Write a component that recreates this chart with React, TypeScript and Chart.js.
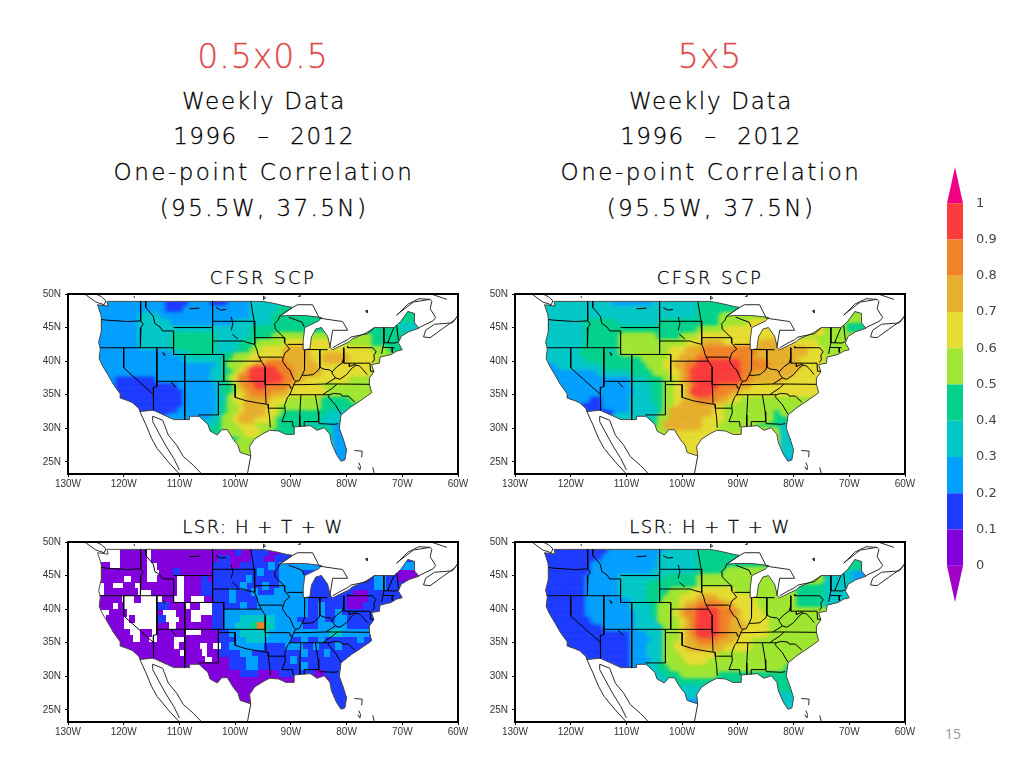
import React, { useEffect, useRef } from "react";
import { Chart, registerables } from "chart.js";

Chart.register(...registerables);

// ---- colour levels (0-0.1, 0.1-0.2, ... 0.9-1)
const levelColors = ["#8200dc", "#1e3cff", "#00a0ff", "#00c8c8", "#00d28c", "#a0e632", "#e6dc32", "#e6af2d", "#f08228", "#fa3c3c"];
const overColor = "#f00082";
const underColor = "#a000c8";
const barTicks = [0, 0.1, 0.2, 0.3, 0.4, 0.5, 0.6, 0.7, 0.8, 0.9, 1];
const lonTicks = [-130, -120, -110, -100, -90, -80, -70, -60];
const latTicks = [25, 30, 35, 40, 45, 50];
const rowLats = [48.5, 47.5, 46.5, 45.5, 44.5, 43.5, 42.5, 41.5, 40.5, 39.5, 38.5, 37.5, 36.5, 35.5, 34.5, 33.5, 32.5, 31.5, 30.5, 29.5, 28.5, 27.5, 26.5, 25.5];

// Each row: "lonW:level" runs, from that longitude eastward until the next run.
const scpFine = [
  "125:2 113:1 108:2 105:1 101:2 97:3",
  "125:2 113:1 109:2 97:3 92:4",
  "125:2 117:3 114:2 97:3 93:4",
  "125:2 117:3 112:2 100:3 93:4 75:4 71:3",
  "125:2 117:3 97:4 75:4 71:3",
  "125:2 117:3 111:4 104:3 97:4 93:5 76:4",
  "125:2 117:3 111:4 104:3 99:4 96:5 91:6 83:5 76:4",
  "125:2 111:3 108:4 104:3 99:4 97:5 95:6 91:7 87:6 76:5 73:4",
  "125:2 109:3 102:4 100:5 97:6 93:6 91:7 87:6 84:7 80:6 75:5",
  "125:2 103:3 102:4 101:5 98:6 96:7 94:8 91:7 86:6 76:5",
  "125:2 104:3 101:4 100:5 99:6 98:7 97:9 93:8 90:7 85:6 76:5",
  "125:2 122:1 114:2 104:3 102:4 101:5 100:6 99:8 97:9 92:8 90:7 88:6 80:5",
  "125:2 122:1 110:2 103:3 102:4 100:5 99:7 98:8 96:9 95:8 91:7 90:6 85:5",
  "125:1 117:0 116:1 109:2 103:3 102:4 100:5 99:6 98:7 97:8 94:7 91:6 84:5",
  "125:1 109:2 103:3 101:5 100:6 98:7 94:6 91:5 85:4 79:5",
  "125:1 109:2 103:3 102:4 101:5 99:6 98:7 95:6 93:5 85:4",
  "125:1 110:2 103:3 102:4 101:5 99:6 98:7 95:6 93:5 92:4 84:3",
  "112:2 104:3 102:5 100:6 99:7 97:6 94:5 93:4 85:3",
  "107:3 103:4 102:5 99:6 97:5 93:4 88:3 83:2",
  "105:4 102:5 98:6 96:5 94:4 83:2",
  "102:4 99:5 95:4 83:2",
  "100:5 83:2",
  "100:5 83:2",
  "100:5 83:2",
];
const scpCoarse = [
  "125:3 113:2 105:3 97:4",
  "125:3 97:4",
  "125:3 97:4 93:5",
  "125:3 117:4 112:3 104:4 93:5 88:6 75:5 71:4",
  "125:3 117:4 97:5 92:6 75:5 71:4",
  "125:3 117:4 111:5 105:4 100:5 97:6 80:5",
  "125:3 117:4 111:5 99:6 96:7 93:6 86:7 83:6 76:5",
  "125:3 118:4 114:3 111:5 102:6 99:7 96:8 87:7 78:6 75:5",
  "125:3 117:4 107:5 102:6 100:7 97:8 88:7 80:6 75:5",
  "125:2 122:3 114:4 106:5 103:6 101:7 99:8 97:9 90:8 85:7 79:6 75:5",
  "125:2 115:3 109:4 105:5 102:6 100:7 99:8 98:9 90:8 88:7 80:6",
  "125:2 109:3 106:4 103:5 101:6 100:7 99:8 98:9 90:8 88:7 82:6",
  "125:2 109:3 105:4 103:5 101:6 99:7 98:8 97:9 94:8 90:7 88:6",
  "125:2 108:3 105:4 103:5 101:6 99:7 98:9 95:8 92:7 90:6",
  "125:2 117:1 114:2 109:3 105:4 103:5 101:6 99:7 97:8 94:7 92:6 90:5",
  "125:1 114:2 109:3 104:4 103:5 101:6 100:7 95:6 93:5",
  "125:1 112:2 109:3 104:4 103:5 102:7 95:6 93:5 84:4 82:5",
  "112:3 104:5 102:7 97:6 93:5 84:4",
  "107:4 104:5 103:7 97:6 94:5 87:4 83:3",
  "105:5 102:6 94:5 83:3",
  "102:6 83:3",
  "100:6 83:3",
  "100:6 83:3",
  "100:6 83:2",
];
const lsrFine = [
  "125:. 122:. 120.5:0 116:. 115:0 100:1 99:0 97:1 94:0 92:1",
  "125:. 120.5:0 116:. 115:0 103:1 101:0 97:1 95:0 93:1",
  "125:0 122.5:. 120.5:0 116:. 114:0 104:1 101:0 99:1 94:2 93:1 92:2",
  "125:0 116:. 113.5:0 111:1 110:0 104:1 96:2 95:1 92:2 88:1 71:0",
  "125:0 120:. 118.5:0 116:. 114:0 110.5:. 109:0 106:1 105:0 104:1 98:2 97:1 92:2 86:1 75:2 73:1 71:0",
  "125:. 123.5:0 122:. 120:0 118:. 117:0 110.5:. 109:0 106:1 104:1 99:2 98:1 95:2 94:1 92:2 87:1 75:2 73:1",
  "125:. 123.5:0 122:0 117.5:. 115:0 110.5:. 109:0 106:1 101:2 100:1 97:2 96:1 93:2 88:1 79:0 76:1",
  "125:0 120.5:. 118:0 117:. 113:0 111:. 109:0 108:. 105.5:0 104:1 101:2 100:1 96:2 87:1 80:0 76:1",
  "125:0 122:. 121:0 120:. 114:1 112:0 109:. 108:0 106.5:. 104:1 99:2 98:1 96:2 87:1 85:2 84:1 80:0 77:1",
  "125:. 122.5:0 119.5:. 114:0 113:. 110.5:0 108:. 104:1 102:2 87:1 85:2 84:1 82:2 81:1",
  "125:. 123:0 120:. 119:0 118:. 114:1 112.5:. 110:0 108:. 106:0 104:1 102:2 99:3 93:2 89:1 85:2 84:1 82:2 80:1",
  "125:. 123:0 120:. 114:0 112:. 110.5:0 104:1 102:2 100:3 97:4 96:8 95:4 94:3 93:2 89:2 88:1 85:2 80:1",
  "125:0 119:. 117:0 115:. 114:0 109:. 106:0 103:1 101:2 99:3 94:2 83:3 81:2 76:1",
  "125:0 118.5:. 117:0 115.5:. 114:0 111:. 109:0 103:1 100:2 98:3 95:2 90:1 88:2 87:1 85:2 84:1 78:2 77:1",
  "125:0 111:. 110:0 106.5:. 105:0 104:. 102.5:1 101:2 95:1 91:2 88:1 86:2 85:1 82:2 81:1",
  "125:0 110:. 109:0 106:. 105:0 103:1 99:2 97:1 91:1 88:2 87:1 84:2 83:1",
  "125:0 105.5:. 104:0 101:1 98:2 96:1 90:2 89:1",
  "112:0 101:1 98:2 96:1 88:2 87:1",
  "107:0 99:1 96:0 92:1 86:0 84:1",
  "105:0 83:1",
  "102:0 83:1",
  "100:0 83:1",
  "100:0 83:1",
  "100:0 81.5:1",
];
const lsrCoarse = [
  "125:1 113:2 103:3 97:4",
  "125:1 114:2 104:3 97:4",
  "125:1 116:2 104:3 97:4",
  "125:1 116:2 105:3 97:4 92:5 84:4 75:3 70:2",
  "125:1 117:2 111:3 103:4 97:5 75:3 70:2",
  "125:1 117:2 111:3 106:4 97:5 80:4 75:3",
  "125:1 117:2 111:3 106:4 102:5 98:6 91:5 80:4 75:3",
  "125:1 117:2 109:3 106:4 103:5 100:6 97:7 94:6 87:5 80:4 75:3",
  "125:1 117:2 109:3 105:4 104:5 100:6 99:7 97:8 93:7 91:6 87:5 80:4 75:3",
  "125:1 117:2 108:3 105:4 104:5 101:6 100:7 99:8 97:9 94:8 91:7 90:6 86:5",
  "125:1 116:2 108:3 104:5 100:6 99:7 98:8 97:9 94:8 92:7 90:6 85:5",
  "125:1 114:2 108:3 103:5 100:6 99:7 98:8 97:9 94:8 92:7 89:6 85:5",
  "125:1 109:2 106:3 103:5 100:6 99:7 98:8 97:9 94:8 92:7 90:6 85:5",
  "125:1 109:2 105:3 103:5 100:6 99:7 97:8 94:7 91:6 88:5",
  "125:1 109:2 106:3 103:5 101:6 99:7 93:6 88:5",
  "125:1 109:2 106:3 103:5 100:6 94:5",
  "125:1 109:2 105:3 103:5 99:6 96:5",
  "112:1 109:2 106:3 104:4 102:5 82:4",
  "107:3 103:4 100:5 94:4",
  "105:3 101:4",
  "102:3 83:4",
  "100:3 83:3",
  "100:2 83:3",
  "100:2 83:3",
];

// ---- map geometry, [lon, lat]
const usOutline: number[][] = [
  [-124.7, 48.4], [-124.1, 46.9], [-124.0, 46.2], [-124.0, 44.5], [-124.5, 42.8], [-124.2, 41.8], [-124.4, 40.4], [-123.8, 39.3], [-123.0, 38.2], [-122.5, 37.5], [-121.9, 36.6], [-120.6, 35.1], [-120.6, 34.5], [-119.2, 34.1], [-118.4, 33.8], [-117.3, 33.0], [-117.1, 32.5],
  [-114.7, 32.7], [-111.0, 31.3], [-108.2, 31.3], [-108.2, 31.8], [-106.5, 31.8], [-104.9, 30.6], [-104.5, 29.6], [-103.2, 29.0], [-102.4, 29.8], [-101.4, 29.8], [-100.3, 28.3], [-99.5, 27.5], [-99.1, 26.4], [-97.2, 25.9],
  [-97.4, 27.3], [-96.5, 28.4], [-95.0, 29.2], [-93.8, 29.7], [-92.2, 29.6], [-90.9, 29.1], [-89.4, 29.1], [-89.4, 30.2], [-88.0, 30.3], [-86.5, 30.4], [-85.3, 29.7], [-84.0, 30.1], [-83.0, 29.1], [-82.7, 27.8], [-81.8, 26.1], [-81.0, 25.1], [-80.3, 25.3], [-80.0, 26.8], [-80.6, 28.4], [-81.3, 30.0], [-81.0, 32.0], [-79.2, 33.2], [-77.9, 33.9], [-76.5, 34.7], [-75.5, 35.3], [-75.9, 36.6], [-75.9, 37.5], [-75.1, 38.4], [-75.5, 39.5], [-74.1, 39.7], [-74.0, 40.6], [-72.0, 41.0], [-71.0, 41.5], [-70.0, 41.7], [-70.7, 42.7], [-70.2, 43.7], [-68.8, 44.4], [-67.0, 44.9], [-67.8, 45.7], [-67.8, 47.1], [-69.0, 47.4], [-70.3, 45.9], [-71.5, 45.0], [-75, 45], [-76.5, 44.2], [-79, 43.3], [-79.5, 42.9], [-82.5, 41.7], [-82.9, 42.0], [-83.4, 43.7], [-84.5, 45.0], [-85.5, 44.8], [-86.3, 43.6], [-86.6, 41.8], [-87.7, 41.7], [-87.8, 43], [-87.5, 45], [-85, 46.0], [-84.5, 46.5], [-87.5, 46.8], [-90.5, 46.8], [-92, 46.7], [-89.7, 48], [-91, 48.2], [-93, 48.6], [-95, 48.9], [-123, 48.9], [-122.8, 48.2], [-124.7, 48.4],
];
const coastLines: number[][][] = [
  [[-117.1, 32.5], [-116, 30.5], [-115, 28.5], [-114, 27], [-112, 25], [-110, 23.2]],
  [[-110, 23.8], [-111, 25.5], [-112.5, 27.5], [-113.5, 29], [-114.8, 31], [-114.8, 31.8], [-113, 31.2], [-112, 29], [-110.5, 27.5], [-109.3, 25.8], [-107.5, 24.5], [-106, 23.2]],
  [[-97.2, 25.9], [-97.8, 23.2]],
  [[-127, 50], [-125, 48.8], [-123.5, 48.4], [-123.2, 49], [-124, 49.6], [-125, 50]],
  [[-92, 46.7], [-89.7, 48], [-88.8, 48.4], [-86.1, 48.4], [-84.9, 46.4], [-80.7, 45.9], [-79.8, 44.6], [-82.5, 44.6], [-83, 42]],
  [[-82.5, 42], [-81, 42.7], [-79.8, 43.2], [-79.2, 43.6], [-76.2, 44.1], [-75, 45]],
  [[-67, 45], [-64.5, 46], [-64, 46.5], [-65, 47.8], [-64.7, 48.9], [-65, 49.2], [-68, 48.8], [-71, 46.9]],
  [[-71, 46.8], [-69, 48.5], [-67, 49.3], [-65, 49.2]],
  [[-66.2, 43.6], [-65.8, 44.6], [-64.2, 45.5], [-61, 45.7], [-60, 46.8], [-60.8, 46], [-63, 44.7], [-65, 43.5], [-66.2, 43.6]],
  [[-64.5, 49.9], [-62, 49.2]],
  [[-76.6, 47.5], [-76.3, 47.6], [-76.3, 47.2], [-76.6, 47.5]],
  [[-88.7, 50], [-88.2, 49.7], [-88.7, 49.6]],
  [[-94.9, 49.7], [-94.5, 49.4], [-95, 49.2], [-94.9, 49.7]],
  [[-118.2, 49.7], [-118, 49.4]],
  [[-78.6, 26.7], [-77.2, 26.6], [-77.3, 25.7]],
  [[-77.8, 24.9], [-77.5, 24.3], [-77.6, 23.8], [-78, 24.3]],
  [[-75.3, 24.2], [-75, 23.2]],
  [[-113, 41.3], [-112.6, 41.1], [-112.7, 40.8], [-113, 41.3]],
];
const stateLines: number[][][] = [
  [[-124, 46.2], [-123, 46.1], [-119.3, 45.9], [-116.9, 46]],
  [[-117, 48.9], [-117, 46.4], [-116.9, 46], [-116.5, 45.5], [-116.9, 45], [-117, 44.2], [-117, 42]],
  [[-124.2, 42], [-111.05, 42]],
  [[-116.05, 48.9], [-116.05, 48], [-114.7, 46.7], [-114.4, 45.6], [-113.5, 45.1], [-113, 44.5], [-111.05, 44.5], [-111.05, 41]],
  [[-111.05, 45], [-104.05, 45]],
  [[-104.05, 48.9], [-104.05, 41]],
  [[-104.05, 45.94], [-96.6, 45.94]],
  [[-104.05, 43], [-98.5, 43], [-97.9, 42.8], [-96.5, 42.5]],
  [[-111.05, 41], [-102.05, 41], [-102.05, 37]],
  [[-102.05, 40], [-95.3, 40]],
  [[-109.05, 41], [-109.05, 31.3]],
  [[-114.05, 42], [-114.05, 36.2], [-114.7, 36.1], [-114.6, 35], [-114.7, 32.7]],
  [[-114.05, 37], [-94.6, 37]],
  [[-103, 37], [-103, 32], [-106.6, 32]],
  [[-103, 36.5], [-100, 36.5], [-100, 34.6], [-98, 34.1], [-96, 33.8], [-94.5, 33.6]],
  [[-95.3, 40], [-94.6, 39.1], [-94.6, 36.5], [-94.45, 33.6], [-94.05, 33.55], [-94.05, 33], [-93.8, 31.5], [-93.7, 30.1]],
  [[-94.05, 33], [-91.1, 33]],
  [[-94.6, 36.5], [-90.2, 36.5], [-90.1, 36], [-89.7, 36]],
  [[-92, 46.7], [-92.3, 46.1], [-92.9, 45.6], [-92.8, 44.8], [-91.2, 43.5], [-91.1, 42.7], [-90.2, 41.8], [-91.1, 41.2], [-91.4, 40.4], [-91.5, 40], [-90.7, 39], [-90.2, 38.7], [-89.5, 37.3], [-89.15, 37], [-89.5, 36.5], [-89.7, 36], [-90.2, 35], [-90.6, 34.6], [-91.1, 33.5], [-91, 32.3], [-91.6, 31], [-89.7, 31], [-89.6, 30.2]],
  [[-96.45, 43.5], [-91.2, 43.5]],
  [[-97.2, 48.9], [-96.6, 46], [-96.5, 45.3], [-96.45, 43.5], [-96.5, 42.5], [-96.1, 41.7], [-95.9, 41], [-95.3, 40]],
  [[-95.8, 40.6], [-91.7, 40.6], [-91.4, 40.4]],
  [[-90.6, 42.5], [-87.8, 42.5]],
  [[-90.4, 46.55], [-88, 45.8], [-87.6, 45.1]],
  [[-87.5, 41.7], [-87.5, 39.3], [-87.6, 38.7], [-88, 37.9]],
  [[-89.15, 37], [-88.5, 37.1], [-88, 37.9], [-87, 37.9], [-86, 38], [-85.6, 38.3], [-85, 38.7], [-84.8, 39.1], [-84, 38.8], [-83, 38.7], [-82.6, 38.4], [-81.7, 39.2], [-80.8, 39.7], [-80.5, 40.6]],
  [[-84.8, 41.7], [-84.8, 39.1]],
  [[-87.2, 41.75], [-83.4, 41.7]],
  [[-80.5, 42], [-80.5, 39.7], [-75.8, 39.7], [-75.7, 38.5], [-75.1, 38.5]],
  [[-79.8, 42.2], [-79.8, 42], [-75.3, 42], [-74.7, 41.4], [-75.1, 40.9], [-75, 40.2], [-75.4, 39.8]],
  [[-89.5, 36.5], [-88, 36.5], [-83.7, 36.6], [-81.7, 36.6], [-75.9, 36.55]],
  [[-83.7, 36.6], [-82, 37.5], [-82.6, 38.2], [-82.6, 38.4]],
  [[-82, 37.5], [-81.2, 37.3], [-80, 38], [-79, 39], [-78.3, 39.4], [-77.7, 39.3], [-77.1, 38.8], [-76.3, 38]],
  [[-79.5, 39.7], [-79.5, 39.2], [-78.3, 39.6]],
  [[-90.3, 35], [-84.3, 35], [-82.5, 36], [-81.7, 36.6]],
  [[-84.3, 35], [-83.1, 35], [-82.3, 35.2], [-81, 35.1], [-80.8, 34.8], [-79.7, 34.8], [-78.5, 33.9]],
  [[-83.1, 35], [-83.3, 34.7], [-82, 33.5], [-81, 32.1]],
  [[-85.6, 35], [-85.1, 32.5], [-85, 31], [-84.9, 30.7], [-82.2, 30.6], [-81.5, 30.7]],
  [[-88.2, 35], [-88.4, 32], [-88.4, 30.3]],
  [[-87.6, 30.3], [-87.6, 31], [-85, 31]],
  [[-73.3, 45], [-73.3, 42.7], [-73.5, 42], [-73.7, 41.1]],
  [[-71.5, 45], [-72.5, 43], [-72.5, 42.7]],
  [[-71, 45.3], [-70.7, 43.1]],
  [[-73.3, 42.75], [-71.3, 42.7], [-70.8, 42.9]],
  [[-73.5, 42.05], [-71.4, 42]],
  [[-71.8, 42], [-71.8, 41.3]],
  [[-120, 42], [-120, 39], [-114.6, 35]],
  [[-108.2, 47.8], [-106.4, 47.9]],
  [[-103.4, 48], [-102.6, 47.6], [-101.6, 47.7]],
  [[-100.7, 46.6], [-100.4, 45.6], [-100.7, 44.6]],
  [[-100.5, 44], [-99.5, 43.3]],
  [[-111.5, 36.9], [-110.6, 36.1]],
];

type P = { x: number; y: number };

function expandRows(rows: string[]): P[][] {
  const levels: P[][] = levelColors.map(() => []);
  rows.forEach((row, r) => {
    const runs = row.split(" ").map((t) => t.split(":"));
    runs.forEach(([lon, lev], i) => {
      if (lev === ".") return;
      const start = -parseFloat(lon);
      const end = i + 1 < runs.length ? -parseFloat(runs[i + 1][0]) : -66;
      for (let x = start + 0.25; x < end; x += 0.5) levels[+lev].push({ x, y: rowLats[r] });
    });
  });
  return levels;
}

const toPts = (seg: number[][]): P[] => seg.map(([x, y]) => ({ x, y }));

const usClip = {
  id: "usClip",
  beforeDatasetDraw(chart: any, args: any) {
    const ds = chart.data.datasets[args.index];
    if (!ds.clipUs) return;
    const { ctx, scales } = chart;
    ctx.save();
    ctx.beginPath();
    usOutline.forEach(([x, y], i) => {
      const px = scales.x.getPixelForValue(x);
      const py = scales.y.getPixelForValue(y);
      if (i) ctx.lineTo(px, py);
      else ctx.moveTo(px, py);
    });
    ctx.closePath();
    ctx.clip();
    ctx.filter = `blur(${ds.soften}px)`;
  },
  afterDatasetDraw(chart: any, args: any) {
    if (chart.data.datasets[args.index].clipUs) chart.ctx.restore();
  },
  afterDraw(chart: any) {
    const { ctx, chartArea: a } = chart;
    ctx.save();
    ctx.strokeStyle = "#000";
    ctx.lineWidth = 2;
    ctx.strokeRect(a.left, a.top, a.right - a.left, a.bottom - a.top);
    ctx.restore();
  },
};

const tickFont = { family: "'Liberation Sans', sans-serif", size: 10 };
const noPad = (s: any) => {
  s.paddingTop = 0;
  s.paddingBottom = 0;
  s.paddingLeft = 0;
  s.paddingRight = 0;
};

function MapPanel({ rows, left, top, blocks }: { rows: string[]; left: number; top: number; blocks?: boolean }) {
  const ref = useRef<HTMLCanvasElement>(null);
  useEffect(() => {
    const levels = expandRows(rows);
    const tile = (color: string) => {
      const c = document.createElement("canvas");
      c.width = 4;
      c.height = 8;
      const g = c.getContext("2d")!;
      g.fillStyle = color;
      g.fillRect(0, 0, 4, 8);
      return c;
    };
    const datasets: any[] = levels.map((data, i) => ({
      data,
      clipUs: true,
      soften: blocks ? 0.5 : 2,
      order: 30 - i,
      showLine: false,
      pointStyle: blocks ? tile(levelColors[i]) : "circle",
      pointRadius: blocks ? 3 : 4.4,
      pointBorderWidth: 0,
      backgroundColor: levelColors[i],
      borderColor: levelColors[i],
    }));
    const line = (seg: number[][], color: string, order: number) => ({
      data: toPts(seg),
      showLine: true,
      pointRadius: 0,
      borderColor: color,
      borderWidth: 1,
      fill: false,
      order,
    });
    datasets.push(line(usOutline, "#4a4a4a", 2));
    coastLines.forEach((s) => datasets.push(line(s, "#2a2a2a", 1)));
    stateLines.forEach((s) => datasets.push(line(s, "#000000", 0)));

    const chart = new Chart(ref.current!, {
      type: "scatter",
      data: { datasets },
      plugins: [usClip],
      options: {
        animation: false,
        responsive: false,
        events: [],
        layout: { padding: { top: 10, right: 12, left: 0, bottom: 0 } },
        plugins: { legend: { display: false }, tooltip: { enabled: false } },
        scales: {
          x: {
            min: -130,
            max: -60,
            afterBuildTicks: (s: any) => { s.ticks = lonTicks.map((value) => ({ value })); },
            afterFit: (s: any) => { s.height = 20; noPad(s); },
            grid: { drawOnChartArea: false, drawTicks: true, tickLength: 3, color: "#000" },
            border: { color: "#000", width: 2 },
            ticks: { color: "#333", font: tickFont, padding: 1, maxRotation: 0, autoSkip: false, callback: (v: any) => `${Math.abs(v)}W` },
          },
          y: {
            min: 23.2,
            max: 50,
            afterBuildTicks: (s: any) => { s.ticks = latTicks.map((value) => ({ value })); },
            afterFit: (s: any) => { s.width = 29; noPad(s); },
            grid: { drawOnChartArea: false, drawTicks: true, tickLength: 3, color: "#000" },
            border: { color: "#000", width: 2 },
            ticks: { color: "#333", font: tickFont, padding: 4, callback: (v: any) => `${v}N` },
          },
        },
      } as any,
    });
    return () => chart.destroy();
  }, []);
  return <canvas ref={ref} width={431} height={210} style={{ position: "absolute", left, top, display: "block" }} />;
}

function ColorBar() {
  const ref = useRef<HTMLCanvasElement>(null);
  useEffect(() => {
    const poly = (pts: number[][], color: string) => ({
      data: toPts(pts),
      showLine: true,
      pointRadius: 0,
      borderWidth: 0,
      borderColor: color,
      backgroundColor: color,
      fill: "shape",
    });
    const datasets: any[] = levelColors.map((c, i) => {
      const lo = barTicks[i];
      const hi = barTicks[i + 1];
      return poly([[0, lo], [1, lo], [1, hi], [0, hi], [0, lo]], c);
    });
    datasets.push(poly([[0, 1], [1, 1], [0.5, 1.1], [0, 1]], overColor));
    datasets.push(poly([[0, 0], [1, 0], [0.5, -0.1], [0, 0]], underColor));
    const chart = new Chart(ref.current!, {
      type: "scatter",
      data: { datasets },
      options: {
        animation: false,
        responsive: false,
        events: [],
        layout: { padding: { top: 7, bottom: 8, left: 0, right: 0 } },
        plugins: { legend: { display: false }, tooltip: { enabled: false } },
        scales: {
          x: { min: 0, max: 1, display: false },
          y: {
            position: "right",
            min: -0.1,
            max: 1.1,
            afterBuildTicks: (s: any) => { s.ticks = barTicks.map((value) => ({ value })); },
            afterFit: (s: any) => { s.width = 37; noPad(s); },
            grid: { display: false },
            border: { display: false },
            ticks: { color: "#444", padding: 5, font: { family: "'DejaVu Sans', sans-serif", size: 13 }, callback: (v: any) => String(v) },
          },
        },
      } as any,
    });
    return () => chart.destroy();
  }, []);
  return <canvas ref={ref} width={53} height={450} style={{ position: "absolute", left: 947, top: 160, display: "block" }} />;
}

const headerFont = "'DejaVu Sans Light', 'DejaVu Sans', sans-serif";

function Label({ text, cx, cy, size, color = "#000", spacing = 1, wordGap = 0 }: { text: string; cx: number; cy: number; size: number; color?: string; spacing?: number; wordGap?: number }) {
  return (
    <div style={{ position: "absolute", left: cx - 200, width: 400, top: cy - 20, height: 40, lineHeight: "40px", textAlign: "center", fontFamily: headerFont, fontWeight: 200, fontSize: size, letterSpacing: spacing, wordSpacing: wordGap, color, whiteSpace: "pre", WebkitTextStroke: `0.3px ${color}` }}>
      {text}
    </div>
  );
}

const headerLines = ["Weekly Data", "1996 – 2012", "One-point Correlation", "(95.5W, 37.5N)"];
const headerYs = [101, 136, 172, 208];
const headerSpacing = [1.7, 1.5, 2.5, 2.4];
const headerWordGap = [0, 11, 0, 0];

export default function App() {
  return (
    <div style={{ position: "absolute", left: 0, top: 0, width: 1024, height: 768, overflow: "hidden", background: "#fff" }}>
      <Label text="0.5x0.5" cx={263} cy={57} size={33} color="#e04a4a" />
      <Label text="5x5" cx={710} cy={57} size={33} color="#e04a4a" />
      {headerLines.map((t, i) => (
        <React.Fragment key={t}>
          <Label text={t} cx={264} cy={headerYs[i]} size={23} spacing={headerSpacing[i]} wordGap={headerWordGap[i]} />
          <Label text={t} cx={711} cy={headerYs[i]} size={23} spacing={headerSpacing[i]} wordGap={headerWordGap[i]} />
        </React.Fragment>
      ))}
      <Label text="CFSR SCP" cx={263} cy={278} size={18} spacing={2.4} />
      <Label text="CFSR SCP" cx={710} cy={278} size={18} spacing={2.4} />
      <Label text="LSR: H + T + W" cx={263} cy={527} size={18} spacing={1.5} />
      <Label text="LSR: H + T + W" cx={710} cy={527} size={18} spacing={1.5} />
      <MapPanel rows={scpFine} left={39} top={284} />
      <MapPanel rows={scpCoarse} left={486} top={284} />
      <MapPanel rows={lsrFine} left={39} top={532} blocks />
      <MapPanel rows={lsrCoarse} left={486} top={532} />
      <ColorBar />
      <div style={{ position: "absolute", left: 939, top: 724, width: 28, textAlign: "center", fontFamily: "'Open Sans', sans-serif", fontSize: 14, color: "#999" }}>15</div>
    </div>
  );
}
